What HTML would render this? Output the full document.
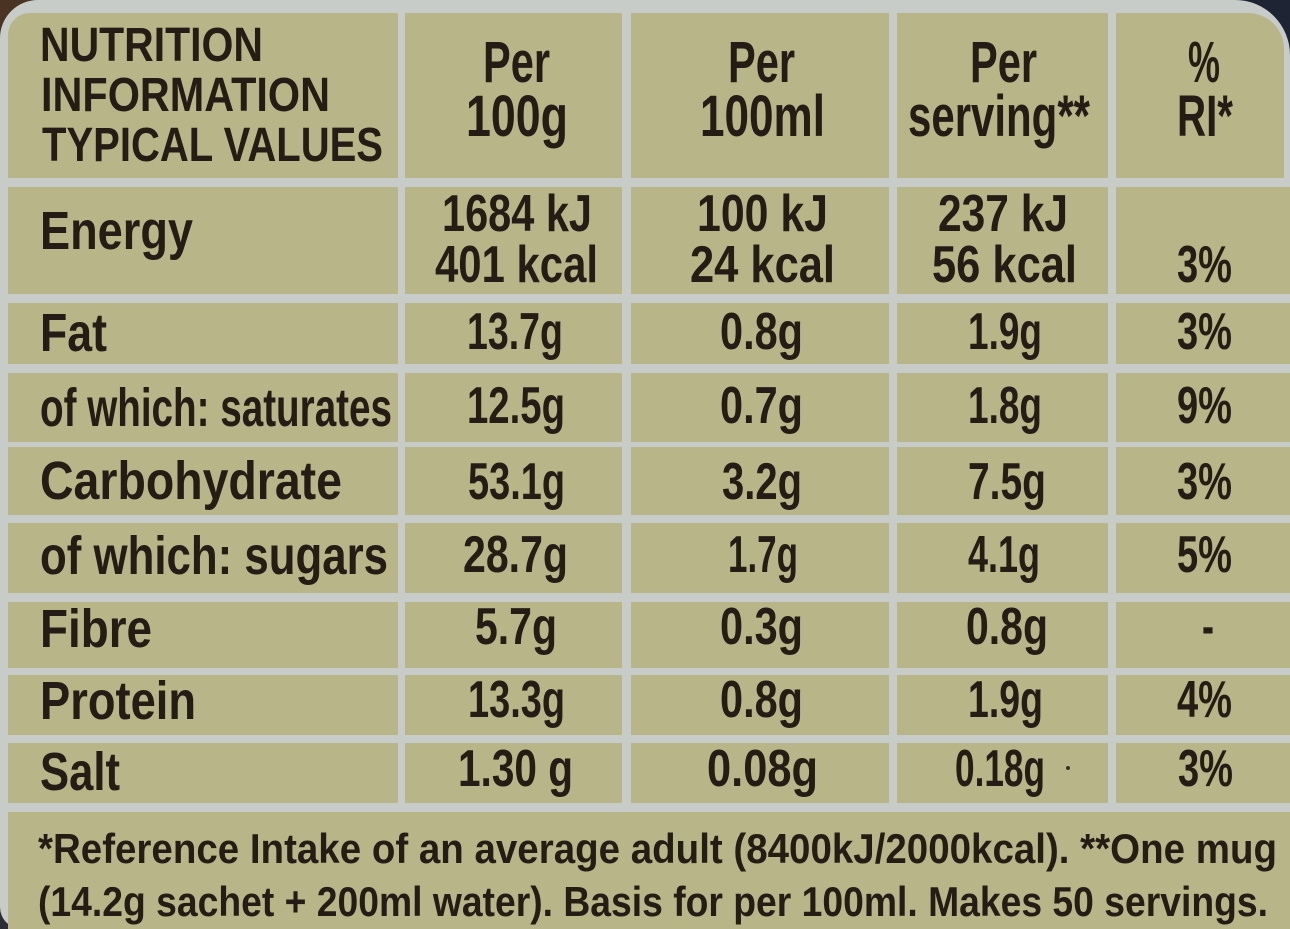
<!DOCTYPE html>
<html>
<head>
<meta charset="utf-8">
<style>
html,body{margin:0;padding:0;}
body{width:1290px;height:929px;position:relative;overflow:hidden;background:#c7ccc9;font-family:"Liberation Sans",sans-serif;}
.k{position:absolute;}
.c{position:absolute;background:#b8b588;}
.t{position:absolute;white-space:nowrap;line-height:1;color:#251d15;font-weight:bold;transform-origin:0 0;transform:scaleX(.8);}
.h1{font-size:48px;}
.h{font-size:58px;}
.l{font-size:54px;}
.v{font-size:52px;}
.f{font-size:42px;}
</style>
</head>
<body>
<!-- dark packaging corners -->
<div class="k" style="left:0;top:0;width:60px;height:60px;background:#4a3322"></div>
<div class="k" style="right:0;top:0;width:80px;height:80px;background:#1e2433"></div>
<div class="k" style="left:0;bottom:0;width:40px;height:40px;background:#2c2c38"></div>
<div class="k" style="left:0;top:0;width:1290px;height:929px;background:#c7ccc9;border-radius:38px 55px 0 22px"></div>

<!-- header row -->
<div class="c" style="left:8px;top:13px;width:390px;height:165px;border-top-left-radius:22px"></div>
<div class="c" style="left:405px;top:13px;width:217px;height:165px"></div>
<div class="c" style="left:631px;top:13px;width:258px;height:165px"></div>
<div class="c" style="left:897px;top:13px;width:211px;height:165px"></div>
<div class="c" style="left:1116px;top:13px;width:168px;height:165px;border-top-right-radius:36px"></div>

<!-- body rows -->
<div class="c" style="left:8px;top:187px;width:390px;height:107px"></div>
<div class="c" style="left:405px;top:187px;width:217px;height:107px"></div>
<div class="c" style="left:631px;top:187px;width:258px;height:107px"></div>
<div class="c" style="left:897px;top:187px;width:211px;height:107px"></div>
<div class="c" style="left:1116px;top:187px;width:174px;height:107px"></div>

<div class="c" style="left:8px;top:303px;width:390px;height:61px"></div>
<div class="c" style="left:405px;top:303px;width:217px;height:61px"></div>
<div class="c" style="left:631px;top:303px;width:258px;height:61px"></div>
<div class="c" style="left:897px;top:303px;width:211px;height:61px"></div>
<div class="c" style="left:1116px;top:303px;width:174px;height:61px"></div>

<div class="c" style="left:8px;top:373px;width:390px;height:69px"></div>
<div class="c" style="left:405px;top:373px;width:217px;height:69px"></div>
<div class="c" style="left:631px;top:373px;width:258px;height:69px"></div>
<div class="c" style="left:897px;top:373px;width:211px;height:69px"></div>
<div class="c" style="left:1116px;top:373px;width:174px;height:69px"></div>

<div class="c" style="left:8px;top:447px;width:390px;height:68px"></div>
<div class="c" style="left:405px;top:447px;width:217px;height:68px"></div>
<div class="c" style="left:631px;top:447px;width:258px;height:68px"></div>
<div class="c" style="left:897px;top:447px;width:211px;height:68px"></div>
<div class="c" style="left:1116px;top:447px;width:174px;height:68px"></div>

<div class="c" style="left:8px;top:523px;width:390px;height:70px"></div>
<div class="c" style="left:405px;top:523px;width:217px;height:70px"></div>
<div class="c" style="left:631px;top:523px;width:258px;height:70px"></div>
<div class="c" style="left:897px;top:523px;width:211px;height:70px"></div>
<div class="c" style="left:1116px;top:523px;width:174px;height:70px"></div>

<div class="c" style="left:8px;top:602px;width:390px;height:66px"></div>
<div class="c" style="left:405px;top:602px;width:217px;height:66px"></div>
<div class="c" style="left:631px;top:602px;width:258px;height:66px"></div>
<div class="c" style="left:897px;top:602px;width:211px;height:66px"></div>
<div class="c" style="left:1116px;top:602px;width:174px;height:66px"></div>

<div class="c" style="left:8px;top:675px;width:390px;height:60px"></div>
<div class="c" style="left:405px;top:675px;width:217px;height:60px"></div>
<div class="c" style="left:631px;top:675px;width:258px;height:60px"></div>
<div class="c" style="left:897px;top:675px;width:211px;height:60px"></div>
<div class="c" style="left:1116px;top:675px;width:174px;height:60px"></div>

<div class="c" style="left:8px;top:743px;width:390px;height:60px"></div>
<div class="c" style="left:405px;top:743px;width:217px;height:60px"></div>
<div class="c" style="left:631px;top:743px;width:258px;height:60px"></div>
<div class="c" style="left:897px;top:743px;width:211px;height:60px"></div>
<div class="c" style="left:1116px;top:743px;width:174px;height:60px"></div>

<!-- footnote cell -->
<div class="c" style="left:8px;top:812px;width:1282px;height:117px"></div>

<!-- header text -->
<div class="t h1" style="left:40px;top:22px;--w:223">NUTRITION</div>
<div class="t h1" style="left:41px;top:72px;--w:289">INFORMATION</div>
<div class="t h1" style="left:42px;top:122px;--w:341">TYPICAL VALUES</div>

<div class="t h" style="left:483px;top:34px;--w:67">Per</div>
<div class="t h" style="left:466px;top:88px;--w:102">100g</div>
<div class="t h" style="left:728px;top:34px;--w:67">Per</div>
<div class="t h" style="left:700px;top:88px;--w:125">100ml</div>
<div class="t h" style="left:970px;top:34px;--w:67">Per</div>
<div class="t h" style="left:908px;top:88px;--w:182">serving**</div>
<div class="t h" style="left:1188px;top:34px;--w:32">%</div>
<div class="t h" style="left:1177px;top:88px;--w:56">RI*</div>

<!-- labels -->
<div class="t l" style="left:40px;top:204px;--w:153">Energy</div>
<div class="t l" style="left:40px;top:306px;--w:67">Fat</div>
<div class="t l" style="left:40px;top:381px;--w:352">of which: saturates</div>
<div class="t l" style="left:40px;top:454px;--w:302">Carbohydrate</div>
<div class="t l" style="left:40px;top:529px;--w:348">of which: sugars</div>
<div class="t l" style="left:40px;top:602px;--w:112">Fibre</div>
<div class="t l" style="left:40px;top:674px;--w:156">Protein</div>
<div class="t l" style="left:40px;top:745px;--w:80">Salt</div>

<!-- energy -->
<div class="t v" style="left:442px;top:188px;--w:150">1684 kJ</div>
<div class="t v" style="left:697px;top:188px;--w:131">100 kJ</div>
<div class="t v" style="left:938px;top:188px;--w:130">237 kJ</div>
<div class="t v" style="left:435px;top:239px;--w:163">401 kcal</div>
<div class="t v" style="left:690px;top:239px;--w:145">24 kcal</div>
<div class="t v" style="left:932px;top:239px;--w:145">56 kcal</div>
<div class="t v" style="left:1177px;top:239px;--w:55">3%</div>

<!-- fat -->
<div class="t v" style="left:467px;top:306px;--w:96">13.7g</div>
<div class="t v" style="left:720px;top:306px;--w:83">0.8g</div>
<div class="t v" style="left:968px;top:306px;--w:74">1.9g</div>
<div class="t v" style="left:1177px;top:306px;--w:55">3%</div>

<!-- saturates -->
<div class="t v" style="left:467px;top:380px;--w:98">12.5g</div>
<div class="t v" style="left:720px;top:380px;--w:83">0.7g</div>
<div class="t v" style="left:968px;top:380px;--w:74">1.8g</div>
<div class="t v" style="left:1177px;top:380px;--w:55">9%</div>

<!-- carbohydrate -->
<div class="t v" style="left:468px;top:456px;--w:97">53.1g</div>
<div class="t v" style="left:722px;top:456px;--w:80">3.2g</div>
<div class="t v" style="left:968px;top:456px;--w:78">7.5g</div>
<div class="t v" style="left:1177px;top:456px;--w:55">3%</div>

<!-- sugars -->
<div class="t v" style="left:463px;top:529px;--w:105">28.7g</div>
<div class="t v" style="left:728px;top:529px;--w:70">1.7g</div>
<div class="t v" style="left:968px;top:529px;--w:72">4.1g</div>
<div class="t v" style="left:1177px;top:529px;--w:55">5%</div>

<!-- fibre -->
<div class="t v" style="left:475px;top:601px;--w:82">5.7g</div>
<div class="t v" style="left:720px;top:601px;--w:83">0.3g</div>
<div class="t v" style="left:966px;top:601px;--w:82">0.8g</div>
<div class="t v" style="left:1202px;top:601px;--w:12">-</div>

<!-- protein -->
<div class="t v" style="left:468px;top:674px;--w:97">13.3g</div>
<div class="t v" style="left:720px;top:674px;--w:83">0.8g</div>
<div class="t v" style="left:968px;top:674px;--w:75">1.9g</div>
<div class="t v" style="left:1177px;top:674px;--w:55">4%</div>

<!-- salt -->
<div class="t v" style="left:458px;top:743px;--w:115">1.30 g</div>
<div class="t v" style="left:707px;top:743px;--w:111">0.08g</div>
<div class="t v" style="left:955px;top:743px;--w:90">0.18g</div>
<div class="k" style="left:1066px;top:766px;width:4px;height:4px;border-radius:50%;background:#3a3024"></div>
<div class="t v" style="left:1178px;top:743px;--w:55">3%</div>

<!-- footnote -->
<div class="t f" style="left:38px;top:828px;--w:1239">*Reference Intake of an average adult (8400kJ/2000kcal). **One mug</div>
<div class="t f" style="left:38px;top:881px;--w:1230">(14.2g sachet + 200ml water). Basis for per 100ml. Makes 50 servings.</div>

<script>
(function(){
  var els=document.querySelectorAll('.t');
  for(var i=0;i<els.length;i++){
    var e=els[i];
    var w=parseFloat(e.style.getPropertyValue('--w'));
    if(!w) continue;
    e.style.transform='none';
    var n=e.getBoundingClientRect().width;
    if(n>0){ e.style.transform='scaleX('+(w/n)+')'; }
  }
})();
</script>
</body>
</html>
